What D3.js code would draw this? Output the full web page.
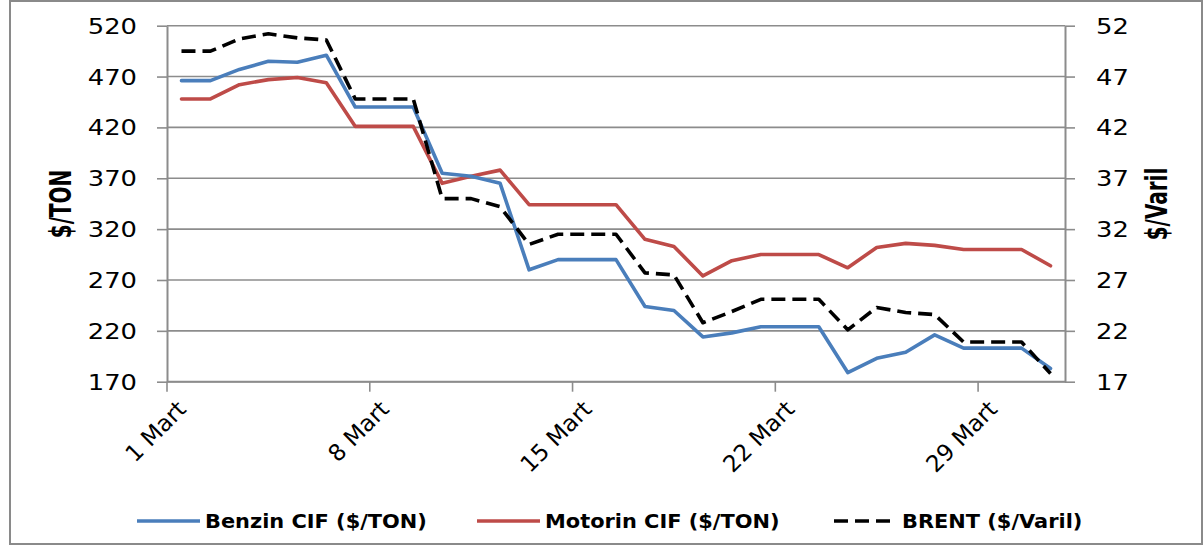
<!DOCTYPE html>
<html><head><meta charset="utf-8">
<script src="https://cdn.jsdelivr.net/npm/d3@7"></script>
<style>
html,body{margin:0;padding:0;background:#fff;}
svg{display:block;}
text{font-family:"DejaVu Sans",sans-serif;fill:#000;}
</style></head>
<body>
<svg id="chart" width="1204" height="546"></svg>
<script>
const categories = ["1 Mart","2 Mart","3 Mart","4 Mart","5 Mart","6 Mart","7 Mart","8 Mart","9 Mart","10 Mart",
  "11 Mart","12 Mart","13 Mart","14 Mart","15 Mart","16 Mart","17 Mart","18 Mart","19 Mart","20 Mart",
  "21 Mart","22 Mart","23 Mart","24 Mart","25 Mart","26 Mart","27 Mart","28 Mart","29 Mart","30 Mart","31 Mart"];
const xTickLabels = ["1 Mart","8 Mart","15 Mart","22 Mart","29 Mart"];
const benzin = [466,466,477,485,484,491,440,440,440,375,372,365,280,290,290,290,244,240,214,218,224,224,224,179,193,199,216,203,203,203,183];
const motorin = [448,448,462,467,469,464,421,421,421,365,372,378,344,344,344,344,310,303,274,289,295,295,295,282,302,306,304,300,300,300,284];
const brent = [49.5,49.5,50.7,51.2,50.8,50.6,44.8,44.8,44.8,35.0,35.0,34.2,30.5,31.5,31.5,31.5,27.7,27.5,22.8,23.9,25.1,25.1,25.1,22.1,24.3,23.8,23.6,20.9,20.9,20.9,17.8];
const leftTicks = [170,220,270,320,370,420,470,520];
const rightTicks = [17,22,27,32,37,42,47,52];
const seriesNames = ["Benzin CIF ($/TON)","Motorin CIF ($/TON)","BRENT ($/Varil)"];
const seriesColors = ["#4A7EBB","#BE4B48","#000000"];
const leftTitle = "$/TON";
const rightTitle = "$/Varil";

const svg = d3.select("#chart");
const L = 167, R = 1065, T = 25.7, B = 381.7;
const SX = 1.26;

// outer border
svg.append("rect").attr("x",10).attr("y",1).attr("width",1192).attr("height",543)
  .attr("fill","none").attr("stroke","#8a8a8a").attr("stroke-width",2);

const x = d3.scaleBand().domain(categories).range([L,R]).padding(0);
const bw = x.bandwidth();
const cx = c => x(c) + bw/2;
const yL = d3.scaleLinear().domain([170,520]).range([B,T]);
const yR = d3.scaleLinear().domain([17,52]).range([B,T]);

// gridlines
svg.append("g").selectAll("line").data(leftTicks).join("line")
  .attr("x1",L).attr("x2",R).attr("y1",d=>yL(d)).attr("y2",d=>yL(d))
  .attr("stroke","#8c8c8c").attr("stroke-width",1.6);

// left axis
const gL = svg.append("g").attr("transform",`translate(${L},0)`)
  .call(d3.axisLeft(yL).tickValues(leftTicks).tickSize(10).tickSizeOuter(0));
gL.select(".domain").attr("stroke","#8c8c8c").attr("stroke-width",2);
gL.selectAll(".tick line").attr("stroke","#8c8c8c").attr("stroke-width",1.6);
gL.selectAll(".tick text").attr("x",null).attr("dy",null)
  .attr("transform",`translate(-30,7.5) scale(${SX},1)`)
  .attr("text-anchor","end").style("font-size","20.5px").style("font-family","DejaVu Sans");

// right axis
const gR = svg.append("g").attr("transform",`translate(${R},0)`)
  .call(d3.axisRight(yR).tickValues(rightTicks).tickSize(10).tickSizeOuter(0));
gR.select(".domain").attr("stroke","#8c8c8c").attr("stroke-width",2);
gR.selectAll(".tick line").attr("stroke","#8c8c8c").attr("stroke-width",1.6);
gR.selectAll(".tick text").attr("x",null).attr("dy",null)
  .attr("transform",`translate(31,7.5) scale(${SX},1)`)
  .attr("text-anchor","start").style("font-size","20.5px").style("font-family","DejaVu Sans");

// bottom axis
const gB = svg.append("g");
gB.append("line").attr("x1",L).attr("x2",R).attr("y1",B).attr("y2",B)
  .attr("stroke","#8c8c8c").attr("stroke-width",2);
gB.selectAll("line.tk").data(xTickLabels).join("line").attr("class","tk")
  .attr("x1",d=>x(d)).attr("x2",d=>x(d)).attr("y1",B).attr("y2",B+10)
  .attr("stroke","#8c8c8c").attr("stroke-width",1.6);
gB.selectAll("text").data(xTickLabels).join("text")
  .attr("transform",d=>`translate(${cx(d)+6},${B+29}) rotate(-45)`)
  .attr("text-anchor","end").style("font-size","23px").text(d=>d);

// axis titles
svg.append("text").attr("transform",`translate(71,204) scale(1.5,1) rotate(-90)`)
  .attr("text-anchor","middle").style("font-size","20px").style("font-weight","bold").text(leftTitle);
svg.append("text").attr("transform",`translate(1167,204) scale(1.5,1) rotate(-90)`)
  .attr("text-anchor","middle").style("font-size","20px").style("font-weight","bold").text(rightTitle);

// lines
const lineL = d3.line().x((d,i)=>cx(categories[i])).y(d=>yL(d));
const lineR = d3.line().x((d,i)=>cx(categories[i])).y(d=>yR(d));
const plot = svg.append("g");
plot.append("path").datum(motorin).attr("d",lineL).attr("fill","none")
  .attr("stroke",seriesColors[1]).attr("stroke-width",3.6).attr("stroke-linejoin","round").attr("stroke-linecap","round");
plot.append("path").datum(benzin).attr("d",lineL).attr("fill","none")
  .attr("stroke",seriesColors[0]).attr("stroke-width",3.6).attr("stroke-linejoin","round").attr("stroke-linecap","round");
plot.append("path").datum(brent).attr("d",lineR).attr("fill","none")
  .attr("stroke",seriesColors[2]).attr("stroke-width",3.6).attr("stroke-dasharray","14,7").attr("stroke-linejoin","round");

// legend
const legendX = [137, 477, 834];
const lg = svg.append("g").selectAll("g").data(seriesNames).join("g")
  .attr("transform",(d,i)=>`translate(${legendX[i]},521)`);
lg.append("line").attr("x1",0).attr("x2",63).attr("y1",0).attr("y2",0)
  .attr("stroke",(d,i)=>seriesColors[i]).attr("stroke-width",3.6)
  .attr("stroke-dasharray",(d,i)=>i===2?"14,7":null);
lg.append("text").attr("transform",`translate(68,7.3) scale(1.1,1)`)
  .style("font-size","19px").style("font-weight","bold").text(d=>d);
</script>
</body></html>
